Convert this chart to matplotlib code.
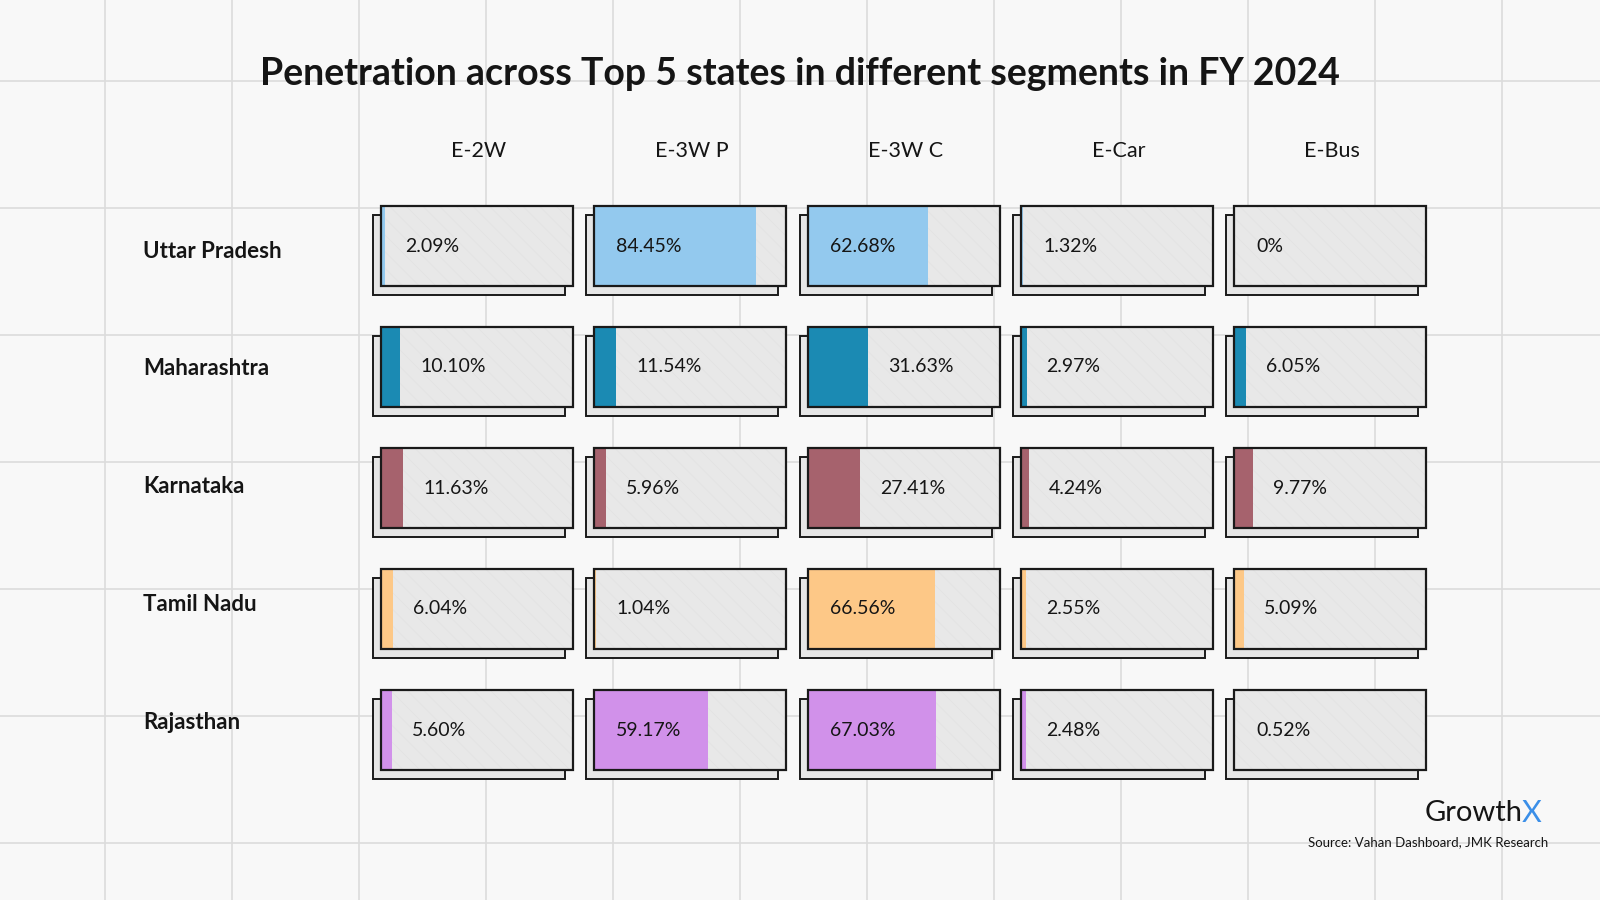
import matplotlib.pyplot as plt
from matplotlib.patches import Rectangle

# data
states = ['Uttar Pradesh', 'Maharashtra', 'Karnataka', 'Tamil Nadu', 'Rajasthan']
segments = ['E-2W', 'E-3W P', 'E-3W C', 'E-Car', 'E-Bus']
up = [2.09, 84.45, 62.68, 1.32, 0]
maharashtra = [10.10, 11.54, 31.63, 2.97, 6.05]
karnataka = [11.63, 5.96, 27.41, 4.24, 9.77]
tamil_nadu = [6.04, 1.04, 66.56, 2.55, 5.09]
rajasthan = [5.60, 59.17, 67.03, 2.48, 0.52]
values = [up, maharashtra, karnataka, tamil_nadu, rajasthan]
row_colors = ['#93C9EE', '#1B8AB3', '#A6626D', '#FDC887', '#D191EA']

plt.rcParams['font.family'] = ['Lato', 'DejaVu Sans']
plt.rcParams['hatch.linewidth'] = 0.6
BG = '#F8F8F8'
TXT = '#151515'

fig = plt.figure(figsize=(16, 9), dpi=100, facecolor=BG)
ax = fig.add_axes([0, 0, 1, 1])
ax.set_facecolor(BG)
ax.set_xlim(0, 1600)
ax.set_ylim(900, 0)
ax.axis('off')

# background grid
for gx in range(105, 1600, 127):
    ax.axvline(gx, color='#DCDCDC', lw=1.2, zorder=0)
for gy in range(81, 900, 127):
    ax.axhline(gy, color='#DCDCDC', lw=1.2, zorder=0)

# layout
box_w, box_h = 192, 80
col_left = [381 + 213.3 * j for j in range(len(segments))]
row_top = [206 + 121 * i for i in range(len(states))]
sx, sy = -8, 9  # shadow offset

for i, state in enumerate(states):
    top = row_top[i]
    for j, seg in enumerate(segments):
        left = col_left[j]
        # shadow card
        ax.add_patch(Rectangle((left + sx, top + sy), box_w, box_h,
                               facecolor='#E6E6E6', edgecolor='#1A1A1A', lw=1.4, zorder=2))
        # front card
        ax.add_patch(Rectangle((left, top), box_w, box_h,
                               facecolor='#E8E8E8', edgecolor='none', zorder=3))
        ax.add_patch(Rectangle((left, top), box_w, box_h, facecolor='none',
                               edgecolor='#E3E3E3', lw=0, hatch='\\\\', zorder=3.5))
        v = values[i][j]
        ax.barh(top + box_h / 2, v / 100 * box_w, height=box_h, left=left,
                color=row_colors[i], zorder=4)
        ax.add_patch(Rectangle((left, top), box_w, box_h,
                               facecolor='none', edgecolor='#1A1A1A', lw=1.6, zorder=5))
        if v >= 50:
            tx = left + 22
        else:
            tx = left + max(22, v / 100 * box_w + 20)
        label = '0%' if v == 0 else f'{v:.2f}%'
        ax.text(tx, top + box_h / 2, label, fontsize=14, color=TXT,
                ha='left', va='center', zorder=6)
    ax.text(143, 251 + 117.8 * i, state, fontsize=16, fontweight='bold',
            color=TXT, ha='left', va='center')

for j, seg in enumerate(segments):
    ax.text(col_left[j] + box_w / 2 + 2, 151, seg, fontsize=15.5, color=TXT,
            ha='center', va='center')

ax.text(800, 74, 'Penetration across Top 5 states in different segments in FY 2024',
        fontsize=27, fontweight='bold', color=TXT, ha='center', va='center')

ax.text(1523, 813, 'Growth', fontsize=21, color=TXT, ha='right', va='center')
ax.text(1522, 813, 'X', fontsize=22, color='#3B8FE8', ha='left', va='center')
ax.text(1548, 842, 'Source: Vahan Dashboard, JMK Research', fontsize=9.5,
        color=TXT, ha='right', va='center')

fig.savefig('out.png', dpi=100, facecolor=BG)
